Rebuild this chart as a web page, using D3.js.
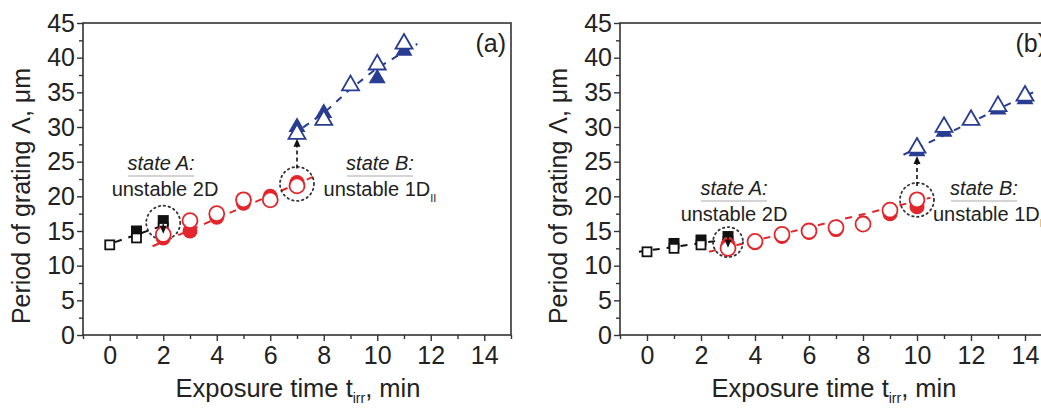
<!DOCTYPE html>
<html><head><meta charset="utf-8">
<script src="https://cdn.jsdelivr.net/npm/d3@7/dist/d3.min.js"></script>
<style>
html,body{margin:0;padding:0;background:#fff;}
svg text{font-family:"Liberation Sans",Arial,sans-serif;fill:#222;}
</style></head><body>
<svg id="chart" width="1041" height="409"></svg>
<script>
// ---- Panel (a) data ----
const aSqOpen   = [[0,13],[1,14],[2,15.5]];
const aSqFill   = [[1,15],[2,16.5]];
const aCirFill  = [[2,14],[3,15],[4,17],[5,19],[6,20],[7,22]];
const aCirOpen  = [[2,14.5],[3,16.5],[4,17.5],[5,19.5],[6,19.5],[7,21.5]];
const aTriFill  = [[7,30],[8,32],[10,37],[11,41]];
const aTriOpen  = [[7,29],[8,31],[9,36],[10,39],[11,42]];
const aFitBlack = [[0.2,13.4],[2,15.8]];
const aFitRed   = [[1.6,12.8],[7.6,22.8]];
const aFitBlue  = [[6.8,28.8],[8,32],[9,35.5],[10,38.5],[11.5,42]];

// ---- Panel (b) data ----
const bSqOpen   = [[0,12],[1,12.5],[2,13],[3,13.5]];
const bSqFill   = [[1,13.2],[2,13.7],[3,14.2]];
const bCirFill  = [[3,13],[4,13.3],[5,14.2],[6,14.8],[7,15.2],[8,16.2],[9,17.5],[10,18.5]];
const bCirOpen  = [[3,12.5],[4,13.5],[5,14.5],[6,15],[7,15.5],[8,16],[9,18],[10,19.5]];
const bTriFill  = [[10,26.5],[11,29.3],[12,31],[13,32.5],[14,34]];
const bTriOpen  = [[10,27],[11,30],[12,31],[13,33],[14,34.5]];
const bFitBlack = [[-0.3,12],[3,13.8]];
const bFitRed   = [[2.3,12],[10.5,19.8]];
const bFitBlue  = [[9.5,26],[14.3,35]];

const xTicks = [0,2,4,6,8,10,12,14];
const yTicks = [0,5,10,15,20,25,30,35,40,45];
const xDomain = [-1,15];
const yDomain = [0,45];

const RED = "#e3262b", BLUE = "#283c92", BLACK = "#111";

const svg = d3.select("#chart");

function panel(cfg){
  const g = svg.append("g");
  const x = d3.scaleLinear().domain(xDomain).range([cfg.left, cfg.right]);
  const y = d3.scaleLinear().domain(yDomain).range([335, 23]);

  // frame
  g.append("rect").attr("x",cfg.left).attr("y",23)
    .attr("width",cfg.right-cfg.left).attr("height",312)
    .attr("fill","none").attr("stroke","#333").attr("stroke-width",1.6);

  // axes
  const xa = d3.axisBottom(x).tickValues(xTicks).tickSize(6).tickPadding(5);
  const xm = d3.axisBottom(x).tickValues(d3.range(-1,16,1).filter(v=>v%2!==0)).tickSize(4).tickFormat("");
  const ya = d3.axisLeft(y).tickValues(yTicks).tickSize(6).tickPadding(2);
  const ym = d3.axisLeft(y).tickValues(d3.range(2.5,45,5)).tickSize(4).tickFormat("");
  [ [xa,"b"],[xm,"b"],[ya,"l"],[ym,"l"] ].forEach(([ax,s])=>{
    const gg = g.append("g").attr("transform", s==="b" ? `translate(0,335)` : `translate(${cfg.left},0)`).call(ax);
    gg.select(".domain").remove();
    gg.selectAll("line").attr("stroke","#333").attr("stroke-width",1.4);
    gg.selectAll("text").style("font-size","25px").attr("fill","#222");
  });

  // fit lines
  const line = d3.line().x(d=>x(d[0])).y(d=>y(d[1]));
  const fits = [[cfg.fitBlack,BLACK],[cfg.fitRed,RED],[cfg.fitBlue,BLUE]];
  fits.forEach(([d,c])=>{
    g.append("path").attr("d",line(d)).attr("fill","none").attr("stroke",c)
      .attr("stroke-width",2).attr("stroke-dasharray","7,7");
  });

  // dotted circles
  cfg.rings.forEach(r=>{
    g.append("circle").attr("cx",x(r[0])).attr("cy",y(r[1])).attr("r",r[2])
      .attr("fill","none").attr("stroke","#333").attr("stroke-width",1.8)
      .attr("stroke-dasharray","1.5,3.5").attr("stroke-linecap","round");
  });

  // markers
  const sq = 11;
  g.selectAll(null).data(cfg.sqFill).enter().append("rect")
    .attr("x",d=>x(d[0])-sq/2).attr("y",d=>y(d[1])-sq/2).attr("width",sq).attr("height",sq)
    .attr("fill",BLACK);
  g.selectAll(null).data(cfg.sqOpen).enter().append("rect")
    .attr("x",d=>x(d[0])-sq/2+1).attr("y",d=>y(d[1])-sq/2+1).attr("width",sq-2).attr("height",sq-2)
    .attr("fill","#fff").attr("stroke",BLACK).attr("stroke-width",1.8);
  g.selectAll(null).data(cfg.cirFill).enter().append("circle")
    .attr("cx",d=>x(d[0])).attr("cy",d=>y(d[1])).attr("r",7.5).attr("fill",RED);
  g.selectAll(null).data(cfg.cirOpen).enter().append("circle")
    .attr("cx",d=>x(d[0])).attr("cy",d=>y(d[1])).attr("r",7.5).attr("fill","#fff")
    .attr("stroke",RED).attr("stroke-width",1.8);
  const tri = d3.symbol().type(d3.symbolTriangle).size(125);
  g.selectAll(null).data(cfg.triFill).enter().append("path")
    .attr("d",tri).attr("transform",d=>`translate(${x(d[0])},${y(d[1])})`).attr("fill",BLUE);
  g.selectAll(null).data(cfg.triOpen).enter().append("path")
    .attr("d",tri).attr("transform",d=>`translate(${x(d[0])},${y(d[1])})`)
    .attr("fill","#fff").attr("stroke",BLUE).attr("stroke-width",1.8);

  // arrows
  cfg.arrows.forEach(a=>{
    const x0=x(a[0]), y0=y(a[1]), y1=y(a[2]);
    const dir = y1<y0 ? -1 : 1;
    g.append("line").attr("x1",x0).attr("x2",x0).attr("y1",y0).attr("y2",y1-dir*6)
      .attr("stroke","#111").attr("stroke-width",1.6).attr("stroke-dasharray",a[3]?"4,3":null);
    g.append("path").attr("d",`M${x0},${y1} L${x0-3.5},${y1-dir*8} L${x0+3.5},${y1-dir*8} Z`).attr("fill","#111");
  });

  // axis titles
  g.append("text").attr("transform",`translate(${cfg.ytx},196) rotate(-90)`)
    .attr("text-anchor","middle").style("font-size","25px").text("Period of grating Λ, μm");
  const xt = g.append("text").attr("x",cfg.xtx).attr("y",397).attr("text-anchor","middle").style("font-size","25.5px");
  xt.append("tspan").text("Exposure time t");
  xt.append("tspan").attr("dy",6).style("font-size","14px").text("irr");
  xt.append("tspan").attr("dy",-6).text(", min");

  // panel label
  g.append("text").attr("x",cfg.labX).attr("y",52).attr("text-anchor","end").style("font-size","25px").text(cfg.label);

  // annotations
  cfg.notes.forEach(n=>{
    g.append("text").attr("x",n.x).attr("y",n.y).attr("text-anchor","middle")
      .style("font-size","20px").style("font-style","italic").text(n.t1);
    g.append("line").attr("x1",n.x-n.ul).attr("x2",n.x+n.ul).attr("y1",n.y+6).attr("y2",n.y+6)
      .attr("stroke","#aaa").attr("stroke-width",1.2);
    const t2 = g.append("text").attr("x",n.x2).attr("y",n.y+26).attr("text-anchor",n.anchor||"middle")
      .style("font-size","20px");
    t2.append("tspan").text(n.t2);
    if(n.sub){ t2.append("tspan").attr("dy",6).style("font-size","11px").text(n.sub); }
  });
}

panel({
  left:83, right:511, label:"(a)", labX:506, ytx:30, xtx:298,
  sqOpen:aSqOpen, sqFill:aSqFill, cirFill:aCirFill, cirOpen:aCirOpen, triFill:aTriFill, triOpen:aTriOpen,
  fitBlack:aFitBlack, fitRed:aFitRed, fitBlue:aFitBlue,
  rings:[[2,16.2,17],[7,21.8,17]],
  arrows:[[2,16,14.6,false],[7,24,28.3,true]],
  notes:[{x:161,y:170,t1:"state A:",ul:33,x2:165,t2:"unstable 2D"},
         {x:380,y:170,t1:"state B:",ul:33,x2:380,t2:"unstable 1D",sub:"II"}]
});
panel({
  left:620, right:1052, label:"(b)", labX:1046, ytx:567, xtx:834,
  sqOpen:bSqOpen, sqFill:bSqFill, cirFill:bCirFill, cirOpen:bCirOpen, triFill:bTriFill, triOpen:bTriOpen,
  fitBlack:bFitBlack, fitRed:bFitRed, fitBlue:bFitBlue,
  rings:[[3,13.4,15],[10,19.5,17]],
  arrows:[[3,14.5,12.6,false],[10,21.5,25.8,true]],
  notes:[{x:734,y:195,t1:"state A:",ul:33,x2:734,t2:"unstable 2D"},
         {x:984,y:195,t1:"state B:",ul:33,x2:933,t2:"unstable 1D",sub:"II",anchor:"start"}]
});
</script>
</body></html>
